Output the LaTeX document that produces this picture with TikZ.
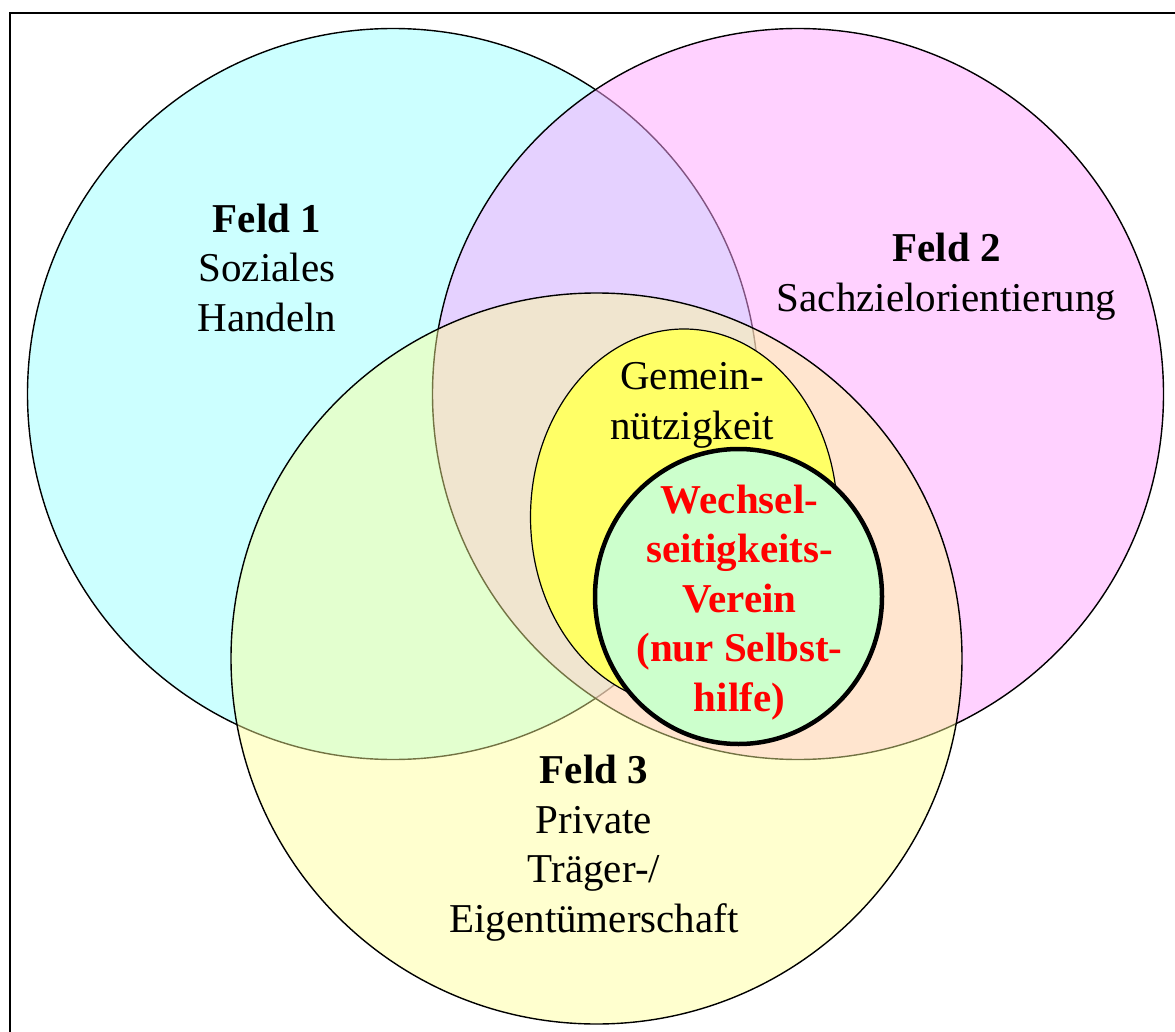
\documentclass[tikz,border=0pt]{standalone}
\usepackage{fontspec}
\setmainfont{Liberation Serif}
\usetikzlibrary{shapes.geometric}
\definecolor{cfeldA}{RGB}{204,255,255}
\definecolor{cfeldB}{RGB}{255,165,255}
\definecolor{cfeldC}{RGB}{255,255,150}
\definecolor{cgemein}{RGB}{255,255,102}
\definecolor{cverein}{RGB}{204,255,204}
\definecolor{cred}{RGB}{255,0,0}
\begin{document}
\begin{tikzpicture}[x=1pt,y=-1pt,
  feld/.style={circle, draw=black, line width=1.4pt, minimum size=731pt, inner sep=0pt},
  lbl/.style={align=center, anchor=base, font=\fontsize{41}{49.5}\selectfont, inner sep=0pt},
  redlbl/.style={lbl, font=\fontsize{41}{49.5}\selectfont\bfseries, text=cred}]
\useasboundingbox (0,0) rectangle (1175,1032);
\fill[white] (0,0) rectangle (1175,1032);
% frame (only left and top edges fall inside the picture)
\coordinate (fbl) at (10,1040);
\coordinate (ftl) at (10,13);
\coordinate (ftr) at (1185,13);
\draw[line width=2.8pt] (fbl) -- (ftl) -- (ftr);
% three fields
\node[feld, fill=cfeldA] (c1) at (393,394) {};
\node[feld, fill=cfeldB, fill opacity=0.5] (c2) at (798,394) {};
\node[feld, fill=cfeldC, fill opacity=0.45] (c3) at (596.5,658.5) {};
% inner shapes
\node[ellipse, draw=black, line width=1.2pt, fill=cgemein, minimum width=307pt, minimum height=376pt, inner sep=0pt] (gem) at (684,517) {};
\node[ellipse, draw=black, line width=4.5pt, fill=cverein, minimum width=287pt, minimum height=295pt, inner sep=0pt] (ver) at (738.5,596.5) {};
% labels (anchor=base is the baseline of the last line)
\node[lbl] (t1) at (267,331) {\textbf{Feld 1}\\Soziales\\Handeln};
\node[lbl] (t2) at (946.5,311.5) {\textbf{Feld 2}\\Sachzielorientierung};
\node[lbl] (t3) at (594,932) {\textbf{Feld 3}\\Private\\Träger-/\\Eigentümerschaft};
\node[lbl] (tg) at (692,439) {Gemein-\\nützigkeit};
\node[redlbl] (tv) at (739.5,711) {Wechsel-\\seitigkeits-\\Verein\\(nur Selbst-\\hilfe)};
\end{tikzpicture}
\end{document}
